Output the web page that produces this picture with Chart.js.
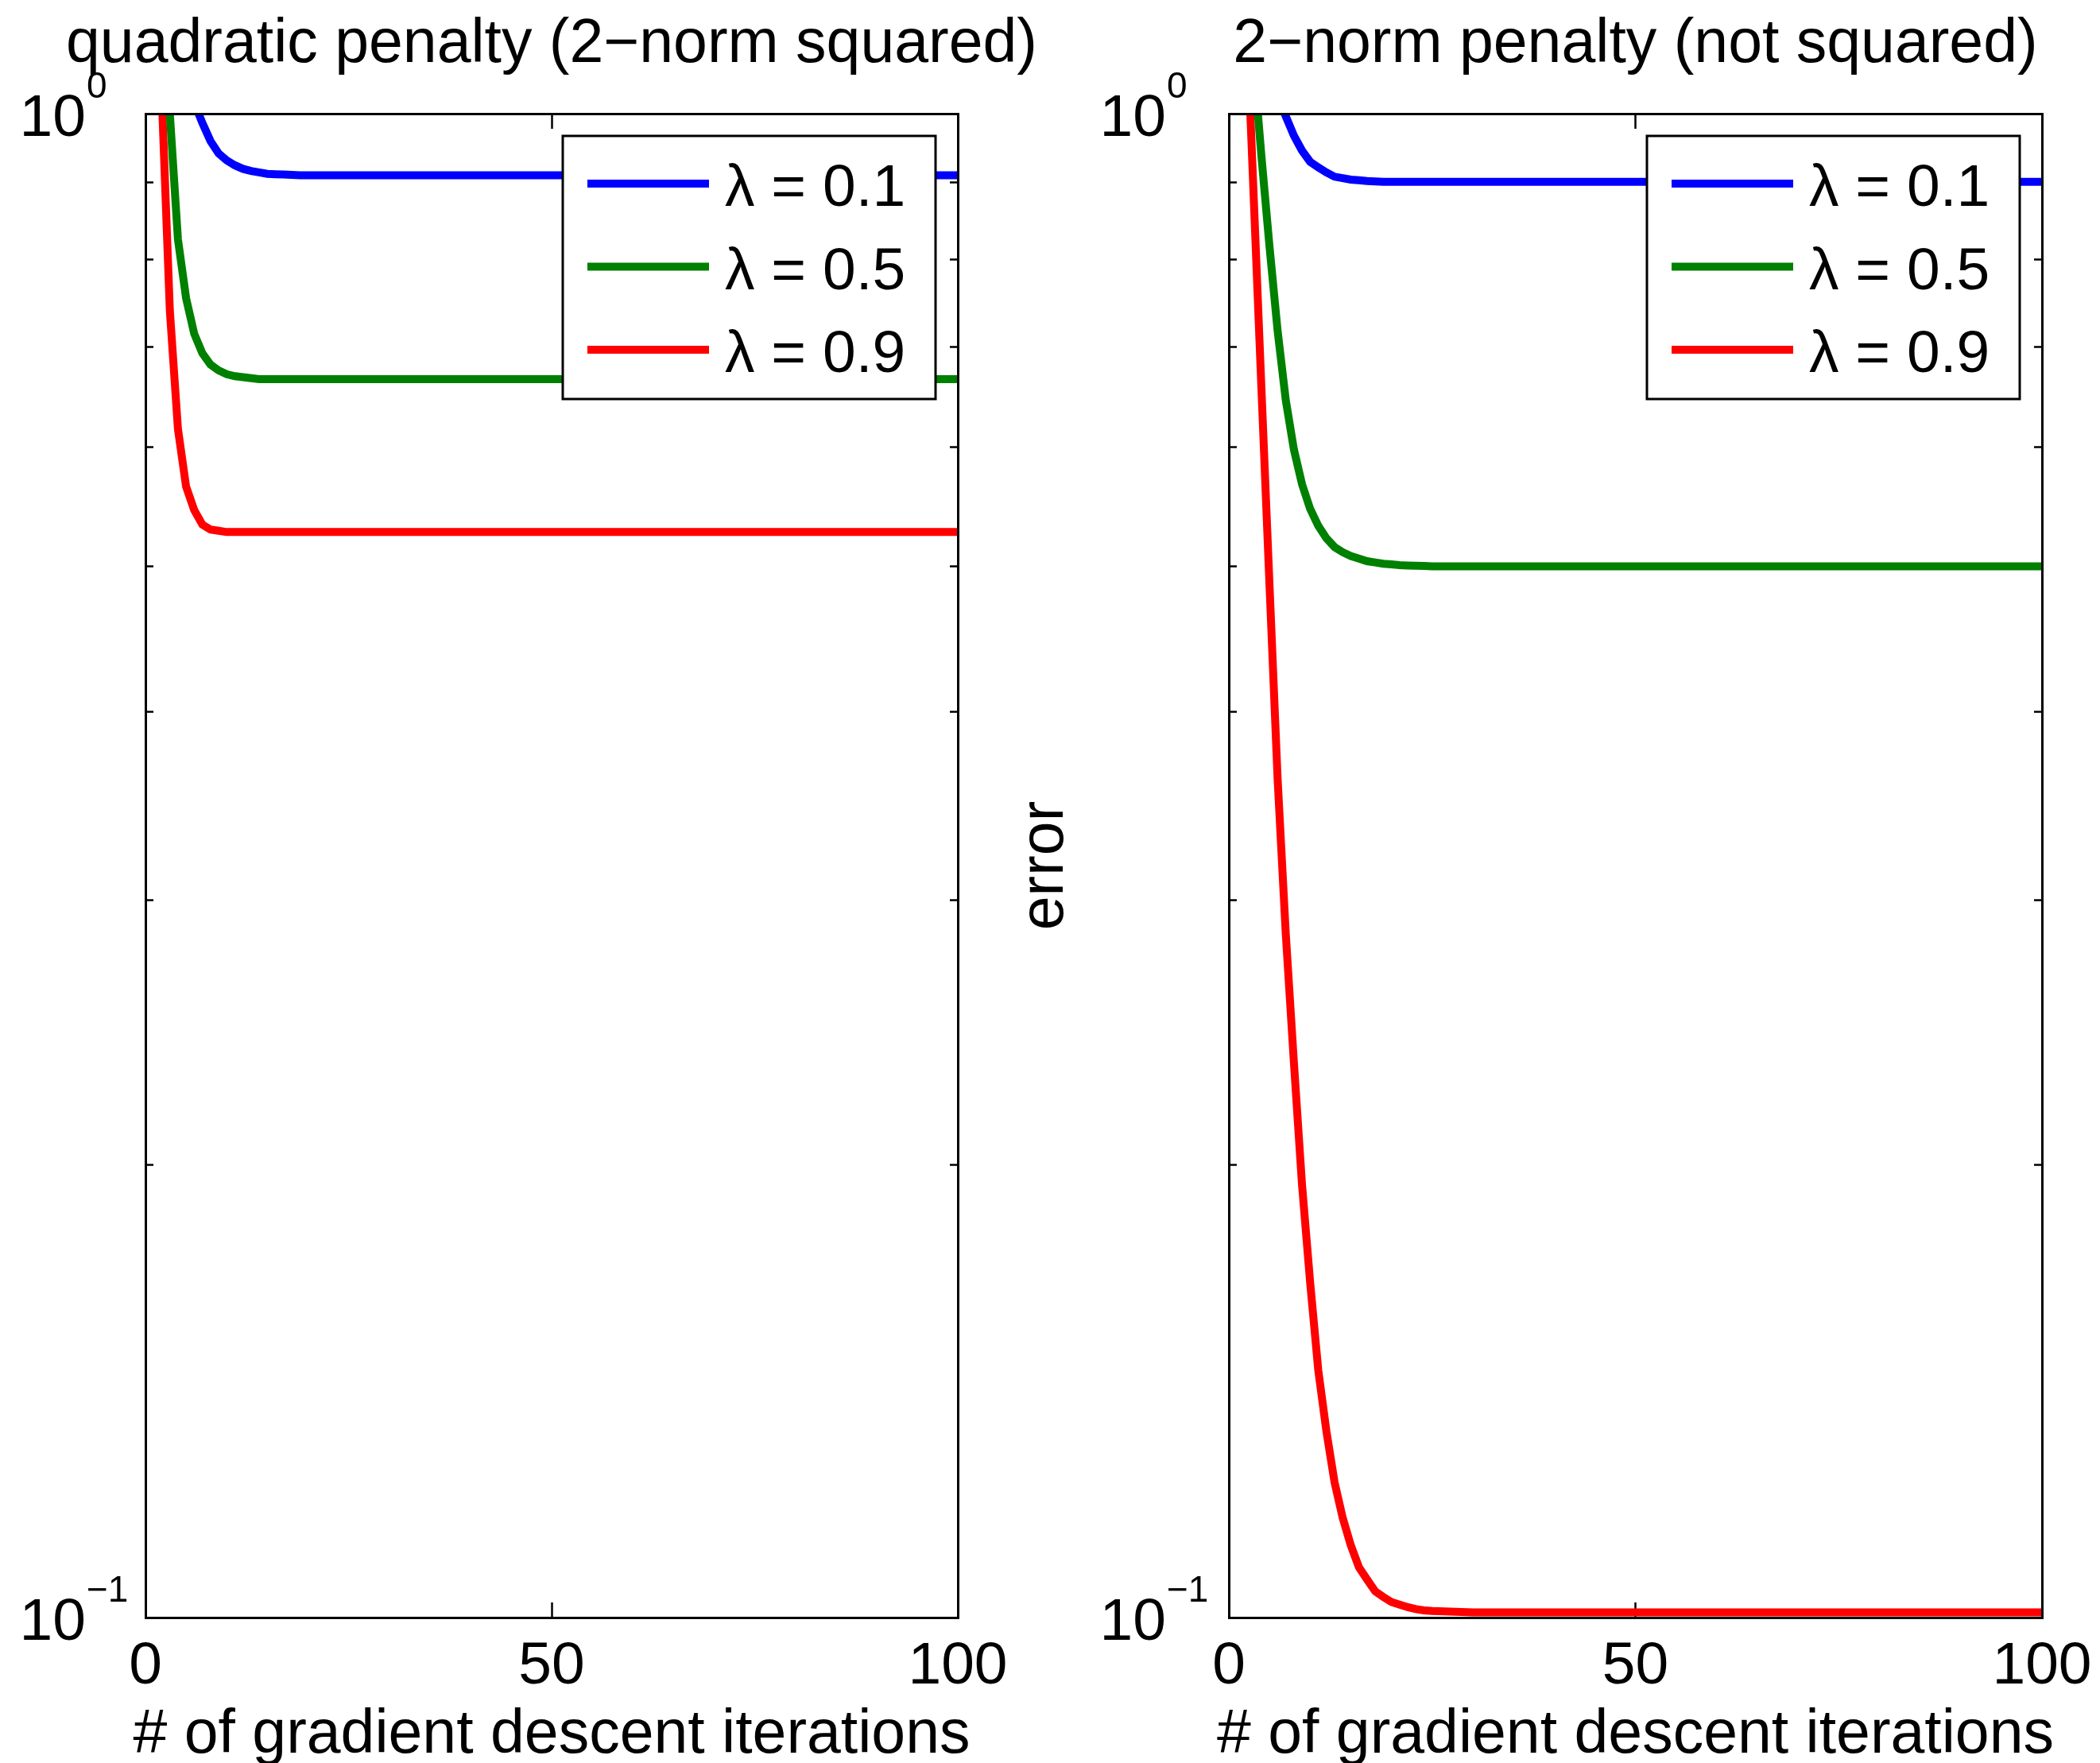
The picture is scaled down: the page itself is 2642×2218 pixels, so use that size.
<!DOCTYPE html>
<html>
<head>
<meta charset="utf-8">
<title>gradient descent error</title>
<script src="https://cdn.jsdelivr.net/npm/chart.js@4.4.1/dist/chart.umd.min.js"></script>
<style>
  html, body { margin: 0; padding: 0; overflow: hidden; background: #fff; }
  #page { position: relative; width: 2642px; height: 2218px; overflow: hidden; background: #fff; }
  canvas { position: absolute; top: 0; }
  #left { left: 0; }
  #right { left: 1240px; }
</style>
</head>
<body>
<div id="page">
  <canvas id="left" width="1388" height="2218"></canvas>
  <canvas id="right" width="1635" height="2218"></canvas>
</div>
<script>
// iterations (dense where the curves bend)
const iterations = [0,1,2,3,4,5,6,7,8,9,10,11,12,13,14,15,16,17,18,19,20,21,22,23,24,25,30,40,50,60,70,80,90,100];
const lambdas = [0.1, 0.5, 0.9];
const lineColors = ['#0000ff', '#008000', '#ff0000'];

// quadratic penalty (2-norm squared)
const quadLam01 = [1.8,1.6,1.45,1.3,1.18,1.09,1.017,0.986,0.959,0.941,0.931,0.924,0.919,0.916,0.914,0.912,0.9115,0.911,0.9105,0.910,0.910,0.910,0.910,0.910,0.910,0.910,0.910,0.910,0.910,0.910,0.910,0.910,0.910,0.910];
const quadLam05 = [2.0,1.6,1.25,1.0,0.825,0.754,0.714,0.693,0.681,0.675,0.671,0.669,0.668,0.667,0.666,0.666,0.666,0.666,0.666,0.666,0.666,0.666,0.666,0.666,0.666,0.666,0.666,0.666,0.666,0.666,0.666,0.666,0.666,0.666];
const quadLam09 = [2.0,1.4,1.03,0.740,0.617,0.565,0.545,0.533,0.529,0.528,0.527,0.527,0.527,0.527,0.527,0.527,0.527,0.527,0.527,0.527,0.527,0.527,0.527,0.527,0.527,0.527,0.527,0.527,0.527,0.527,0.527,0.527,0.527,0.527];

// 2-norm penalty (not squared)
const normLam01 = [1.6,1.45,1.32,1.2,1.12,1.07,1.028,0.996,0.967,0.945,0.929,0.921,0.914,0.908,0.906,0.904,0.903,0.902,0.9015,0.901,0.901,0.901,0.901,0.901,0.901,0.901,0.901,0.901,0.901,0.901,0.901,0.901,0.901,0.901];
const normLam05 = [2.0,1.55,1.28,1.09,0.938,0.816,0.717,0.645,0.598,0.567,0.546,0.532,0.522,0.515,0.511,0.508,0.506,0.504,0.503,0.502,0.5015,0.501,0.5007,0.5005,0.5003,0.5,0.5,0.5,0.5,0.5,0.5,0.5,0.5,0.5];
const normLam09 = [2.25,1.66,1.22,0.896,0.658,0.486,0.361,0.285,0.234,0.194,0.167,0.146,0.133,0.123,0.1165,0.1117,0.108,0.106,0.1041,0.1032,0.1024,0.102,0.1016,0.1013,0.1011,0.101,0.1008,0.1008,0.1008,0.1008,0.1008,0.1008,0.1008,0.1008];

// axis ticks
const xTickStep = 50;
const yTickValues = [0.1,0.2,0.3,0.4,0.5,0.6,0.7,0.8,0.9,1];
const yLabelValues = [1, 0.1];
const yLabelExps = ['0', '\u22121'];
const xTitle = '# of gradient descent iterations';

const FONT = '"Liberation Sans", Arial, Helvetica, sans-serif';
Chart.defaults.font.family = FONT;
Chart.defaults.color = '#000';

// 10^k labels with a raised exponent, plus the x label (drawn unsqueezed)
const axisText = {
  id: 'axisText',
  afterDraw(chart, args, opts) {
    const {ctx, chartArea, scales} = chart;
    ctx.save();
    ctx.fillStyle = '#000';
    ctx.textBaseline = 'alphabetic';
    yLabelValues.forEach((v, i) => {
      const py = scales.y.getPixelForValue(v);
      const xr = chartArea.left - opts.gap;
      ctx.font = '75px ' + FONT;
      ctx.textAlign = 'right';
      ctx.fillText('10', xr, py + 28);
      ctx.font = '46px ' + FONT;
      ctx.textAlign = 'left';
      ctx.fillText(yLabelExps[i], xr + 1, py - 20);
    });
    ctx.font = '77px ' + FONT;
    ctx.textAlign = 'center';
    ctx.fillText(xTitle, (chartArea.left + chartArea.right) / 2, chart.height - 13);
    ctx.restore();
  }
};

// boxed legend in the upper right of the axes, like matlab's
const boxLegend = {
  id: 'boxLegend',
  afterDraw(chart) {
    const {ctx, chartArea} = chart;
    const bw = 469, bh = 331;
    const bx = chartArea.right - 28 - bw;
    const by = chartArea.top + 28;
    ctx.save();
    ctx.fillStyle = '#fff';
    ctx.fillRect(bx, by, bw, bh);
    ctx.lineWidth = 3;
    ctx.strokeStyle = '#000';
    ctx.strokeRect(bx, by, bw, bh);
    chart.data.datasets.forEach((ds, i) => {
      const y = by + 60 + i * 104.5;
      ctx.beginPath();
      ctx.moveTo(bx + 31, y);
      ctx.lineTo(bx + 184, y);
      ctx.lineWidth = 10;
      ctx.strokeStyle = ds.borderColor;
      ctx.stroke();
      ctx.font = '75px ' + FONT;
      ctx.fillStyle = '#000';
      ctx.textAlign = 'left';
      ctx.textBaseline = 'alphabetic';
      ctx.fillText(ds.label, bx + 204, y + 28);
    });
    ctx.restore();
  }
};

function makeChart(id, titleText, series, yw, yTitle, gap) {
  const tickGrid = (len) => ({
    drawOnChartArea: false, drawTicks: true, tickLength: len,
    tickWidth: 2.5, tickColor: '#000'
  });
  const border = { display: true, color: '#000', width: 3, z: 1 };
  const setTicks = s => { s.ticks = yTickValues.map(value => ({ value })); };

  return new Chart(document.getElementById(id).getContext('2d'), {
    type: 'line',
    data: {
      datasets: series.map((vals, i) => ({
        label: 'λ = ' + lambdas[i],
        data: iterations.map((it, j) => ({ x: it, y: vals[j] })),
        borderColor: lineColors[i],
        borderWidth: 10,
        pointRadius: 0,
        fill: false,
        tension: 0,
        clip: 0,
        xAxisID: 'x',
        yAxisID: 'y'
      }))
    },
    options: {
      responsive: false,
      animation: false,
      events: [],
      layout: { padding: 0 },
      plugins: {
        legend: { display: false },
        tooltip: { enabled: false },
        title: {
          display: true, text: titleText, color: '#000',
          font: { size: 77, lineHeight: 1, weight: 'normal' },
          padding: { top: 17.8, bottom: 48.2 }
        },
        axisText: { gap: gap }
      },
      scales: {
        x: {
          type: 'linear', position: 'bottom', min: 0, max: 100,
          ticks: { stepSize: xTickStep, font: { size: 75 }, color: '#000', padding: 36, maxRotation: 0 },
          grid: tickGrid(-19),
          border: border,
          afterFit: s => { s.height = 183; }
        },
        x2: {
          type: 'linear', position: 'top', min: 0, max: 100,
          ticks: { display: false, stepSize: xTickStep },
          grid: tickGrid(-19),
          border: border,
          afterFit: s => { s.height = 0; }
        },
        y: {
          type: 'logarithmic', position: 'left', min: 0.1, max: 1,
          ticks: { display: false },
          grid: tickGrid(-10),
          border: border,
          title: {
            display: !!yTitle, text: yTitle || '', color: '#000',
            font: { size: 77, lineHeight: 1 }, padding: { top: 37.3, bottom: 0 }
          },
          afterBuildTicks: setTicks,
          afterFit: s => { s.width = yw; }
        },
        y2: {
          type: 'logarithmic', position: 'right', min: 0.1, max: 1,
          ticks: { display: false },
          grid: tickGrid(-10),
          border: border,
          afterBuildTicks: setTicks,
          afterFit: s => { s.width = yw; }
        }
      }
    },
    plugins: [axisText, boxLegend]
  });
}

makeChart('left', 'quadratic penalty (2\u2212norm squared)', [quadLam01, quadLam05, quadLam09], 183, null, 75);
makeChart('right', '2\u2212norm penalty (not squared)', [normLam01, normLam05, normLam09], 306, 'error', 79);
</script>
</body>
</html>
